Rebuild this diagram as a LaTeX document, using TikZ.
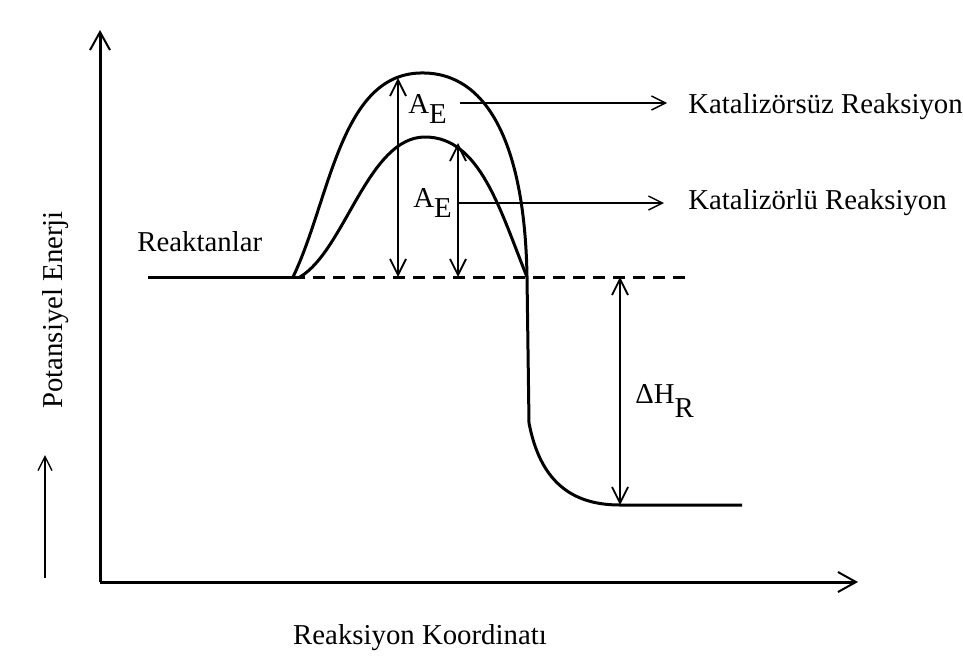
\documentclass[tikz,border=0pt]{standalone}
\usepackage{fontspec}
\setmainfont{Liberation Serif}
\usetikzlibrary{arrows.meta}
\begin{document}
\begin{tikzpicture}[x=0.5pt,y=-0.5pt,
  mainline/.style={line width=1.5pt},
  thinline/.style={line width=0.9pt},
  axistip/.style={-{Straight Barb[length=9pt,width=10pt,line width=1pt]}},
  dimtip/.style={{Straight Barb[length=8pt,width=8pt,line width=0.9pt]}-{Straight Barb[length=8pt,width=8pt,line width=0.9pt]}},
  pointtip/.style={-{Straight Barb[length=7pt,width=7pt,line width=0.7pt]}},
  lbl/.style={font=\fontsize{14.4}{16}\selectfont, inner sep=0pt}]
\useasboundingbox[fill=white] (0,0) rectangle (963,659);
% axes
\coordinate (O) at (100,582);
\coordinate (ytop) at (100,30);
\coordinate (xend) at (858,582);
\draw[mainline,axistip] (O) -- (ytop);
\draw[mainline,axistip] (O) -- (xend);
% small arrow
\coordinate (sa1) at (45,578);
\coordinate (sa2) at (45,455);
\draw[thinline,pointtip] (sa1) -- (sa2);
% reactant level
\coordinate (r0) at (148,277);
\coordinate (r1) at (293,277);
\coordinate (r2) at (685,277);
\draw[mainline] (r0) -- (r1);
\draw[mainline,dash pattern=on 6pt off 4pt] (r1) -- (r2);
% uncatalysed curve
\coordinate (u0) at (293,277);
\coordinate (u1) at (420,73);
\coordinate (u2) at (527,277);
\draw[mainline] (u0) .. controls (330,200) and (340,75) .. (u1)
                     .. controls (490,71) and (525,150) .. (u2);
% catalysed curve
\coordinate (c0) at (300,277);
\coordinate (c1) at (425,137);
\draw[mainline] (c0) .. controls (345,250) and (368,137) .. (c1)
                     .. controls (480,137) and (500,210) .. (u2);
% product drop
\coordinate (p1) at (529,423);
\coordinate (p2) at (620,505);
\coordinate (p3) at (742,505);
\draw[mainline] (u2) -- (p1) .. controls (540,480) and (570,505) .. (p2) -- (p3);
% activation energy arrows
\coordinate (ae1b) at (398,277);
\coordinate (ae1t) at (398,78);
\coordinate (ae2b) at (458,277);
\coordinate (ae2t) at (458,143);
\draw[thinline,dimtip] (ae1b) -- (ae1t);
\draw[thinline,dimtip] (ae2b) -- (ae2t);
\node[lbl,anchor=base west] (ae1) at (408,113) {A\raisebox{-5pt}{E}};
\node[lbl,anchor=base west] (ae2) at (413,207) {A\raisebox{-5pt}{E}};
% pointer arrows
\coordinate (l1a) at (460,103);
\coordinate (l1b) at (667,103);
\coordinate (l2a) at (458,203);
\coordinate (l2b) at (664,203);
\draw[thinline,pointtip] (l1a) -- (l1b);
\draw[thinline,pointtip] (l2a) -- (l2b);
\node[lbl,anchor=base west] (k1) at (688,113) {Katalizörsüz Reaksiyon};
\node[lbl,anchor=base west] (k2) at (688,209) {Katalizörlü Reaksiyon};
% enthalpy arrow
\coordinate (hb) at (620,505);
\coordinate (ht) at (620,277);
\draw[thinline,dimtip] (hb) -- (ht);
\node[lbl,anchor=base west] (dh) at (635,403) {ΔH\raisebox{-7pt}{R}};
% labels
\node[lbl,anchor=base west] (reak) at (137,251) {Reaktanlar};
\node[lbl,anchor=base,rotate=90] (pe) at (62,310) {Potansiyel Enerji};
\node[lbl,anchor=base] (rk) at (420,644) {Reaksiyon Koordinatı};
\end{tikzpicture}
\end{document}
